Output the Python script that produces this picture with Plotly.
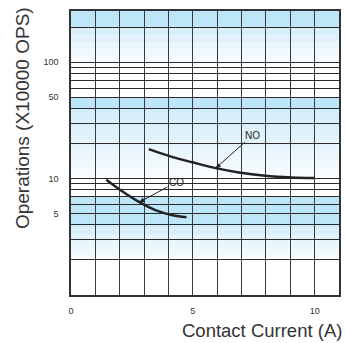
import math
import plotly.graph_objects as go

# ---- data ----
NO_X = [3.19, 4.17, 4.98, 5.94, 6.89, 7.97, 9.06, 10.0]
NO_Y = [17.9, 15.3, 13.8, 12.3, 11.3, 10.6, 10.24, 10.1]
CO_X = [1.45, 2.13, 2.81, 3.49, 4.17, 4.74]
CO_Y = [9.8, 7.72, 6.28, 5.34, 4.84, 4.65]

X_TICKS = [0, 5, 10]
Y_GRID = [1, 2, 3, 4, 5, 6, 7, 8, 9, 10, 20, 30, 40, 50, 60, 70, 80, 90, 100, 200]
Y_LABELS = {5: "5", 10: "10", 50: "50", 100: "100"}

X_MAX = 11
Y_TOP = 10 ** 2.44

FONT = "Liberation Sans, Arial, sans-serif"
SOLID = (190, 230, 249)
GRAD_TOP = (205, 235, 250)
GRAD_BOT = (250, 253, 255)

fig = go.Figure()
shapes = []

def rgb(c):
    return "rgb(%d,%d,%d)" % c

def solid_band(y0, y1):
    shapes.append(dict(type="rect", xref="x", yref="y", x0=0, x1=X_MAX, y0=y0, y1=y1,
                       fillcolor=rgb(SOLID), line=dict(width=0), layer="below"))

def grad_band(y0, y1, n=30):
    l0, l1 = math.log10(y0), math.log10(y1)
    for i in range(n):
        a = l0 + (l1 - l0) * i / n
        b = l0 + (l1 - l0) * (i + 1) / n
        t = (i + 0.5) / n
        c = tuple(round(GRAD_BOT[k] + (GRAD_TOP[k] - GRAD_BOT[k]) * t) for k in range(3))
        shapes.append(dict(type="rect", xref="x", yref="y", x0=0, x1=X_MAX,
                           y0=10 ** a, y1=10 ** b, fillcolor=rgb(c),
                           line=dict(width=0), layer="below"))

solid_band(200, Y_TOP)
grad_band(100, 200)
solid_band(40, 50)
grad_band(10, 40)
solid_band(4, 7)
grad_band(2, 4)

fig.add_trace(go.Scatter(x=NO_X, y=NO_Y, mode="lines", line=dict(color="#222", width=2.5, shape="spline"),
                         showlegend=False, hoverinfo="skip"))
fig.add_trace(go.Scatter(x=CO_X, y=CO_Y, mode="lines", line=dict(color="#222", width=2.5, shape="spline"),
                         showlegend=False, hoverinfo="skip"))

fig.update_layout(
    width=345, height=343,
    margin=dict(l=71, r=4, t=11, b=48),
    paper_bgcolor="white", plot_bgcolor="rgba(0,0,0,0)",
    font=dict(family=FONT, color="#333"),
    shapes=shapes,
    xaxis=dict(range=[0, X_MAX], tickvals=X_TICKS, ticktext=[str(v) for v in X_TICKS],
               showgrid=True, gridcolor="#3a3a3a", gridwidth=1.3,
               minor=dict(dtick=1, showgrid=True, gridcolor="#3a3a3a", gridwidth=1.3),
               ticks="outside", ticklen=6, tickcolor="rgba(0,0,0,0)",
               tickfont=dict(size=9, color="#333"),
               showline=True, mirror=True, linecolor="#333", linewidth=1.5,
               zeroline=False),
    yaxis=dict(type="log", range=[0, math.log10(Y_TOP)], tickvals=Y_GRID,
               ticktext=[Y_LABELS.get(v, "") for v in Y_GRID],
               showgrid=True, gridcolor="#2a2a2a", gridwidth=1.3,
               ticks="outside", ticklen=9, tickcolor="rgba(0,0,0,0)",
               tickfont=dict(size=9, color="#333"),
               showline=True, mirror=True, linecolor="#333", linewidth=1.5,
               zeroline=False),
)

fig.add_annotation(x=NO_X[3], y=math.log10(NO_Y[3]), xref="x", yref="y", text="NO",
                   showarrow=True, ax=37, ay=-33, arrowhead=2, arrowsize=1, arrowwidth=1,
                   arrowcolor="#222", font=dict(size=10, color="#222"))
fig.add_annotation(x=CO_X[2], y=math.log10(CO_Y[2]), xref="x", yref="y", text="CO",
                   showarrow=True, ax=37, ay=-20, arrowhead=2, arrowsize=1, arrowwidth=1,
                   arrowcolor="#222", font=dict(size=10, color="#222"))

fig.add_annotation(x=1.02, y=-0.125, xref="paper", yref="paper", text="Contact Current (A)",
                   showarrow=False, xanchor="right", yanchor="middle",
                   font=dict(size=18.5, color="#333"))
fig.add_annotation(x=-0.18, y=0.622, xref="paper", yref="paper", text="Operations (X10000 OPS)",
                   showarrow=False, textangle=-90, xanchor="center", yanchor="middle",
                   font=dict(size=19, color="#333"))

fig.write_html("out.html", config={"displayModeBar": False},
               post_script="document.body.style.margin='0px';")
